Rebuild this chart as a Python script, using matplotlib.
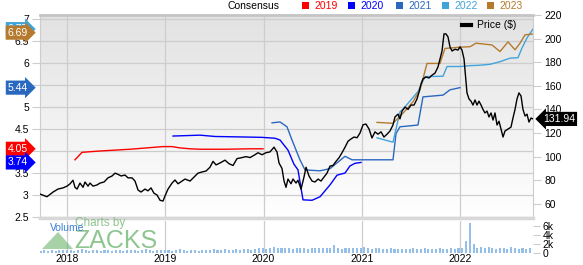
import numpy as np
import matplotlib
matplotlib.use('Agg')
import matplotlib.pyplot as plt
from matplotlib import transforms
from matplotlib.colors import LinearSegmentedColormap
from matplotlib.patches import Polygon, Rectangle
from matplotlib.lines import Line2D

plt.rcParams['font.family'] = ['Liberation Sans', 'DejaVu Sans']

# price ($), decimal year
price_year = [2017.725, 2017.766, 2017.796, 2017.858, 2017.908, 2017.959, 2018.000, 2018.031,
              2018.061, 2018.081, 2018.102, 2018.132, 2018.163, 2018.183, 2018.214, 2018.234,
              2018.265, 2018.305, 2018.336, 2018.377, 2018.417, 2018.458, 2018.489, 2018.519,
              2018.550, 2018.590, 2018.621, 2018.662, 2018.692, 2018.723, 2018.753, 2018.794,
              2018.824, 2018.855, 2018.885, 2018.916, 2018.947, 2018.977, 2018.997, 2019.028,
              2019.069, 2019.099, 2019.130, 2019.170, 2019.201, 2019.252, 2019.293, 2019.333,
              2019.374, 2019.415, 2019.455, 2019.486, 2019.517, 2019.557, 2019.608, 2019.649,
              2019.690, 2019.730, 2019.771, 2019.822, 2019.863, 2019.913, 2019.944, 2019.985,
              2020.025, 2020.066, 2020.107, 2020.137, 2020.158, 2020.188, 2020.209, 2020.229,
              2020.249, 2020.280, 2020.300, 2020.331, 2020.351, 2020.382, 2020.412, 2020.433,
              2020.463, 2020.494, 2020.524, 2020.555, 2020.585, 2020.616, 2020.646, 2020.677,
              2020.707, 2020.738, 2020.768, 2020.799, 2020.830, 2020.860, 2020.891, 2020.921,
              2020.952, 2020.982, 2021.013, 2021.043, 2021.074, 2021.104, 2021.135, 2021.165,
              2021.196, 2021.226, 2021.257, 2021.287, 2021.318, 2021.338, 2021.369, 2021.389,
              2021.410, 2021.440, 2021.471, 2021.501, 2021.532, 2021.562, 2021.583, 2021.603,
              2021.623, 2021.654, 2021.684, 2021.715, 2021.746, 2021.776, 2021.796, 2021.817,
              2021.837, 2021.857, 2021.878, 2021.898, 2021.919, 2021.949, 2021.980, 2022.000,
              2022.020, 2022.041, 2022.061, 2022.071, 2022.092, 2022.112, 2022.132, 2022.153,
              2022.173, 2022.193, 2022.214, 2022.234, 2022.254, 2022.275, 2022.295, 2022.316,
              2022.336, 2022.356, 2022.377, 2022.397, 2022.417, 2022.438, 2022.458, 2022.489,
              2022.519, 2022.539, 2022.560, 2022.580, 2022.600, 2022.621, 2022.641, 2022.662,
              2022.682, 2022.702, 2022.723, 2022.743]
price_usd = [68.3, 67.0, 66.0, 70.0, 72.5, 73.5, 75.0, 77.0,
             80.0, 74.0, 72.5, 77.6, 74.0, 78.5, 75.0, 77.6,
             75.0, 76.0, 77.6, 78.5, 82.0, 83.6, 86.0, 85.0,
             83.6, 84.4, 82.0, 82.0, 79.3, 71.7, 70.0, 72.5,
             71.0, 73.5, 69.0, 67.5, 63.0, 62.4, 66.6, 72.5,
             77.6, 80.2, 77.0, 79.3, 81.0, 79.3, 82.7, 86.0,
             87.0, 87.8, 91.0, 96.0, 93.0, 94.6, 97.0, 94.0,
             92.5, 98.3, 99.0, 100.0, 99.2, 101.6, 103.3, 101.6,
             103.3, 104.0, 108.0, 104.0, 94.6, 90.0, 79.3, 74.0,
             81.0, 77.0, 81.0, 77.6, 80.0, 72.5, 82.7, 91.0,
             83.6, 79.3, 78.5, 81.0, 79.3, 82.7, 86.0, 92.0,
             92.5, 96.0, 99.0, 103.3, 108.0, 113.0, 115.0, 116.6,
             116.0, 120.0, 127.0, 127.6, 123.4, 115.8, 121.0, 119.0,
             121.0, 116.6, 119.0, 121.7, 126.8, 133.6, 136.0, 132.0,
             138.6, 142.0, 140.0, 143.7, 143.7, 148.8, 154.7, 161.5,
             165.8, 167.5, 166.6, 169.0, 170.8, 176.0, 182.7, 189.5,
             204.0, 204.0, 201.4, 193.0, 189.5, 191.0, 190.3, 193.0,
             190.3, 182.7, 164.0, 154.0, 148.8, 147.0, 143.7, 148.0,
             143.7, 147.0, 143.7, 140.0, 137.0, 138.6, 133.6, 137.0,
             131.0, 137.0, 126.8, 130.0, 123.4, 116.6, 121.7, 123.4,
             125.0, 132.7, 140.0, 148.8, 154.0, 151.4, 140.0, 134.4,
             136.0, 129.3, 132.7, 131.94]

# consensus EPS estimates by fiscal year
eps_2019_year = [2018.081, 2018.153, 2018.336, 2018.641, 2018.977, 2019.069, 2019.150,
                 2019.252, 2019.354, 2019.608, 2019.863, 2019.995]
eps_2019 = [3.80, 3.97, 4.00, 4.04, 4.10, 4.10, 4.07, 4.05, 4.04, 4.04, 4.05, 4.05]

eps_2020_year = [2019.079, 2019.354, 2019.507, 2019.761, 2019.985, 2020.117, 2020.168,
                 2020.249, 2020.310, 2020.351, 2020.402, 2020.494, 2020.575, 2020.677,
                 2020.748, 2020.830, 2020.880, 2020.931, 2020.992]
eps_2020 = [4.34, 4.36, 4.33, 4.32, 4.31, 4.29, 4.25, 4.02, 3.70, 3.57, 2.89, 2.88, 2.96,
            3.23, 3.45, 3.50, 3.66, 3.72, 3.74]

eps_2021_year = [2020.087, 2020.168, 2020.239, 2020.290, 2020.371, 2020.422, 2020.575,
                 2020.677, 2020.830, 2020.901, 2021.318, 2021.349, 2021.389, 2021.572,
                 2021.623, 2021.827, 2021.898, 2022.000]
eps_2021 = [4.64, 4.66, 4.55, 4.25, 3.80, 3.57, 3.55, 3.60, 3.88, 3.80, 3.80, 4.40, 4.55,
            4.59, 5.23, 5.27, 5.39, 5.44]

eps_2022_year = [2021.155, 2021.318, 2021.389, 2021.420, 2021.572, 2021.644, 2021.827,
                 2021.868, 2022.000, 2022.102, 2022.204, 2022.305, 2022.407, 2022.509,
                 2022.590, 2022.631, 2022.682, 2022.743]
eps_2022 = [4.30, 4.20, 4.89, 4.95, 5.35, 5.69, 5.70, 5.92, 5.92, 5.94, 5.95, 5.97, 6.03,
            6.11, 6.12, 6.34, 6.57, 6.77]

eps_2023_year = [2021.155, 2021.318, 2021.420, 2021.522, 2021.593, 2021.664, 2021.796,
                 2021.847, 2022.000, 2022.102, 2022.163, 2022.326, 2022.407, 2022.489,
                 2022.560, 2022.611, 2022.662, 2022.743]
eps_2023 = [4.65, 4.63, 4.86, 5.12, 5.39, 5.99, 5.99, 6.33, 6.36, 6.37, 6.45, 6.41, 6.26,
            6.48, 6.30, 6.45, 6.64, 6.66]

eps_labels = ['6.77', '6.69', '5.44', '4.05', '3.74']

# volume (thousands), biweekly from late Sep 2017
vol_start = 2017.73
vol_step = 14 / 365.25
vol_k = [0.5, 0.6, 0.5, 0.6, 0.5, 0.7, 0.6,
         0.6, 0.7, 0.5, 0.6, 0.8, 0.6, 0.5, 0.6, 0.7, 0.5, 0.6, 0.6, 0.5, 0.7, 0.6, 0.5,
         0.6, 0.7, 0.6, 0.5, 0.6, 0.8, 0.6, 0.5, 0.7, 0.6,
         0.7, 0.6, 0.5, 0.7, 0.8, 0.6, 0.5, 0.6, 0.7, 0.5, 0.6, 0.7, 0.6, 0.8, 0.7, 0.6,
         0.9, 0.7, 0.6, 0.8, 0.7, 0.9, 0.8, 0.7, 0.9, 1.0,
         1.0, 0.9, 1.1, 1.3, 1.2, 1.0, 1.2, 1.1, 0.9, 1.2, 1.0, 1.1, 0.9, 1.2, 1.0, 1.1,
         1.0, 1.1, 1.2, 1.8, 1.0, 0.9, 1.0, 1.2, 1.1, 1.0,
         1.1, 1.3, 1.0, 0.9, 1.2, 1.0, 0.8, 0.9, 1.0, 0.8, 0.9, 0.8, 0.9, 0.8, 1.0, 0.8,
         0.9, 1.1, 0.8, 0.9, 0.8, 1.0, 0.9, 0.8, 1.2, 0.9,
         1.0, 1.1, 2.6, 6.7, 2.0, 1.2, 1.4, 1.0, 1.3, 1.1, 0.9, 1.0, 1.2, 0.9, 1.4, 1.0,
         0.9, 1.1, 0.9, 1.0, 1.2, 1.6]

years = [2018, 2019, 2020, 2021, 2022]
left_ticks = [2.5, 3, 3.5, 4, 4.5, 5, 5.5, 6, 6.5, 7]
right_ticks = [60, 80, 100, 120, 140, 160, 180, 200, 220]
vol_ticks = [0, 2, 4, 6]

C2019, C2020, C2021, C2022, C2023 = '#ff0000', '#0000ff', '#2a68c0', '#40a4dc', '#b57a2e'
GRID = '#cdcdcd'

W, H = 583, 265
fig = plt.figure(figsize=(W / 100, H / 100), dpi=100)


def fx(px):
    return px / W


def fy(py):
    return 1 - py / H


x0, x1 = 2017.725, 2022.743

ax = fig.add_axes([fx(40), fy(218), fx(533) - fx(40), fy(15) - fy(218)])
ax2 = ax.twinx()
axv = fig.add_axes([fx(40), fy(253), fx(533) - fx(40), fy(221) - fy(253)])

# gray gradient background
cmap = LinearSegmentedColormap.from_list('bg', ['#ffffff', '#e2e2e2'])
grad = np.linspace(0, 1, 256).reshape(-1, 1)
ax.imshow(grad, extent=[0, 1, 0, 1], transform=ax.transAxes, aspect='auto',
          cmap=cmap, origin='lower', zorder=0)

ax.plot(eps_2019_year, eps_2019, color=C2019, lw=1.0)
ax.plot(eps_2020_year, eps_2020, color=C2020, lw=1.0)
ax.plot(eps_2021_year, eps_2021, color=C2021, lw=1.0)
ax.plot(eps_2022_year, eps_2022, color=C2022, lw=1.0)
ax.plot(eps_2023_year, eps_2023, color=C2023, lw=1.0)
ax2.plot(price_year, price_usd, color='black', lw=1.0)

ax.set_xlim(x0, x1)
ax.set_ylim(7 - 199 / 44, 7 + 4 / 44)
ax2.set_ylim(48, 220)

ax.set_xticks(years)
ax.set_yticks(left_ticks)
ax.set_yticklabels([f'{t:g}' for t in left_ticks])
ax.grid(True, color=GRID, lw=0.9)
ax.set_axisbelow(True)
ax.tick_params(axis='x', length=0, labelbottom=False)
ax.tick_params(axis='y', length=6, color=GRID, labelsize=7.5, pad=2)
ax2.set_yticks(right_ticks)
ax2.tick_params(axis='y', length=6, color=GRID, labelsize=7.5, pad=2)

for s in ax2.spines.values():
    s.set_visible(False)
ax.spines['top'].set_color('#c4c4c4')
ax.spines['top'].set_linewidth(2)
ax.spines['left'].set_color(GRID)
ax.spines['right'].set_color(GRID)
ax.spines['bottom'].set_color('#d8d8d8')
ax.spines['bottom'].set_linewidth(2.5)

# volume panel
vol_x = vol_start + vol_step * np.arange(len(vol_k))
axv.bar(vol_x, vol_k, width=vol_step * 0.55, color='#94bfe8', zorder=2)
axv.set_xlim(x0, x1)
axv.set_ylim(0, 7.1)
axv.set_xticks(years)
axv.set_xticklabels([str(y) for y in years])
axv.grid(True, axis='x', color=GRID, lw=0.9)
axv.set_axisbelow(True)
axv.yaxis.tick_right()
axv.set_yticks(vol_ticks)
axv.set_yticklabels(['0', '2k', '4k', '6k'])
axv.tick_params(axis='y', length=5, color=GRID, labelsize=7.5, pad=2)
axv.tick_params(axis='x', length=0, labelsize=7.5, pad=1)
for s in axv.spines.values():
    s.set_visible(False)

# value tags on the axes
lblend = transforms.blended_transform_factory(ax.transAxes, ax.transData)
tag_vals = [eps_2022[-1], eps_2023[-1] + 0.03, eps_2021[-1], eps_2019[-1], eps_2020[-1]]
tag_cols = [C2022, C2023, C2021, C2019, C2020]
for v, txt, c in zip(tag_vals, eps_labels, tag_cols):
    ax2.annotate(txt, xy=(0, v), xycoords=lblend, xytext=(-12, 0), textcoords='offset pixels',
                 ha='right', va='center', color='white', fontsize=7.5, zorder=20,
                 annotation_clip=False,
                 bbox=dict(boxstyle='rarrow,pad=0.2', fc=c, ec='none'))

rblend = transforms.blended_transform_factory(ax2.transAxes, ax2.transData)
ax2.annotate(f'{price_usd[-1]:.2f}', xy=(1, price_usd[-1]), xycoords=rblend, xytext=(10, 0),
             textcoords='offset pixels', ha='left', va='center', color='white', fontsize=7.5,
             zorder=20, annotation_clip=False,
             bbox=dict(boxstyle='larrow,pad=0.2', fc='black', ec='none'))

# top legend
fig.text(fx(228), fy(6), 'Consensus', fontsize=7.5, va='center', ha='left')
leg = [('2019', C2019, 302), ('2020', C2020, 348), ('2021', C2021, 396),
       ('2022', C2022, 442), ('2023', C2023, 487)]
for name, c, px in leg:
    fig.add_artist(Rectangle((fx(px), fy(9)), 7 / W, 7 / H, transform=fig.transFigure,
                             fc=c, ec='none'))
    fig.text(fx(px + 12), fy(6), name, color=c, fontsize=7.5, va='center', ha='left')

fig.add_artist(Line2D([fx(462), fx(471)], [fy(25), fy(25)], color='black', lw=3,
                      transform=fig.transFigure))
fig.text(fx(477), fy(25), 'Price ($)', fontsize=7.5, va='center', ha='left')

# watermark
fig.add_artist(Polygon([(fx(42), fy(249)), (fx(58), fy(232)), (fx(73), fy(249))],
                       closed=True, transform=fig.transFigure, fc='#5fae62', ec='none',
                       alpha=0.55, zorder=5))
fig.text(fx(75), fy(223), 'Charts by', fontsize=8.5, color='#5fae62', alpha=0.7,
         va='center', ha='left', zorder=5)
fig.text(fx(74), fy(240.5), 'ZACKS', fontsize=18, color='#5fae62', alpha=0.7,
         va='center', ha='left', zorder=5)
fig.text(fx(50), fy(228), 'Volume', fontsize=7.5, color='#3b7fd6', va='center', ha='left',
         zorder=6)

fig.savefig('out.png', dpi=100)
